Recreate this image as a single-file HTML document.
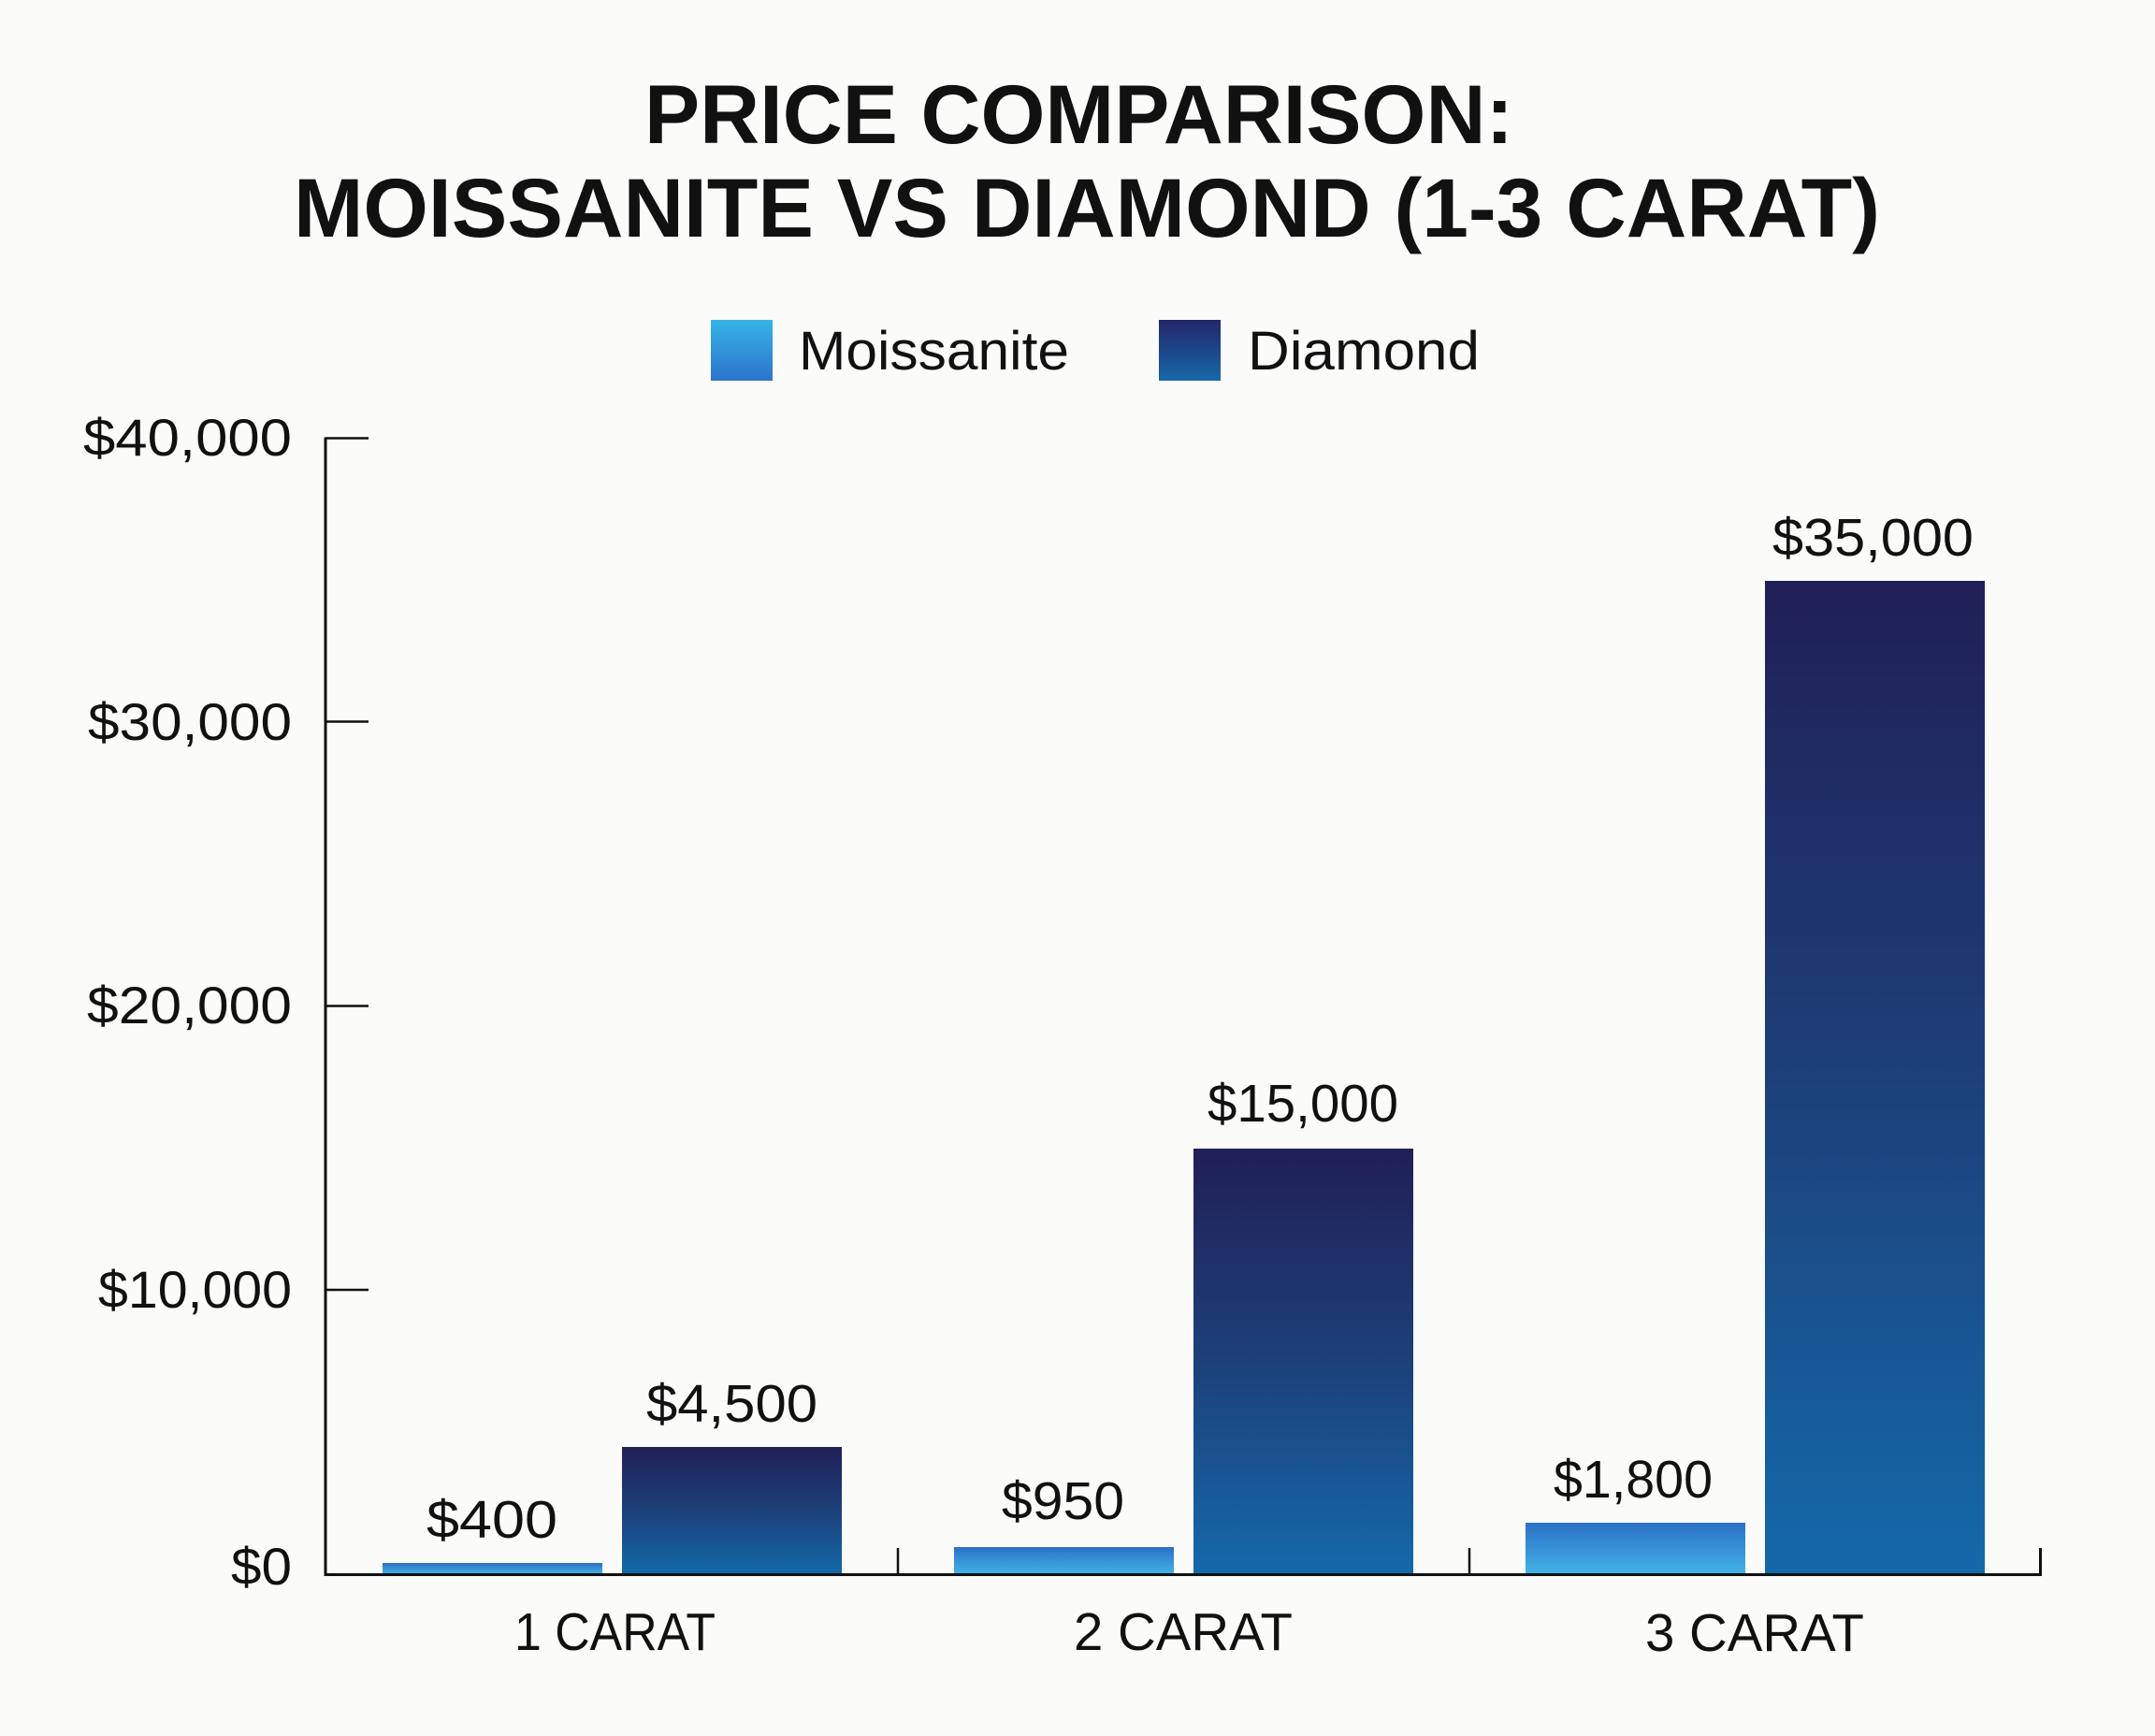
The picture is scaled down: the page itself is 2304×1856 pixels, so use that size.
<!DOCTYPE html>
<html>
<head>
<meta charset="utf-8">
<style>
  html, body { margin: 0; padding: 0; background: #fbfbf9; }
  svg { display: block; }
  text { font-family: "Liberation Sans", "DejaVu Sans", sans-serif; fill: #111; }
</style>
</head>
<body>
<svg width="2304" height="1856" viewBox="0 0 2304 1856" xmlns="http://www.w3.org/2000/svg">
  <defs>
    <linearGradient id="gM" x1="0" y1="0" x2="0" y2="1">
      <stop offset="0" stop-color="#2b70c6"/>
      <stop offset="1" stop-color="#43b3e6"/>
    </linearGradient>
    <linearGradient id="gD" x1="0" y1="0" x2="0" y2="1">
      <stop offset="0" stop-color="#211f57"/>
      <stop offset="0.5" stop-color="#1d4079"/>
      <stop offset="1" stop-color="#1469aa"/>
    </linearGradient>
    <linearGradient id="gLM" x1="0" y1="0" x2="0" y2="1">
      <stop offset="0" stop-color="#36b4e6"/>
      <stop offset="1" stop-color="#2c74cb"/>
    </linearGradient>
    <linearGradient id="gLD" x1="0" y1="0" x2="0" y2="1">
      <stop offset="0" stop-color="#24266a"/>
      <stop offset="1" stop-color="#1768a8"/>
    </linearGradient>
  </defs>

  <rect x="0" y="0" width="2304" height="1856" fill="#fbfbf9"/>

  <!-- Title -->
  <text x="689" y="153" font-size="89" font-weight="bold" textLength="929" lengthAdjust="spacingAndGlyphs">PRICE COMPARISON:</text>
  <text x="314" y="253" font-size="89" font-weight="bold" textLength="1696" lengthAdjust="spacingAndGlyphs">MOISSANITE VS DIAMOND (1-3 CARAT)</text>

  <!-- Legend -->
  <rect x="760" y="342" width="66" height="65" fill="url(#gLM)"/>
  <text x="854" y="395" font-size="58" textLength="289" lengthAdjust="spacingAndGlyphs">Moissanite</text>
  <rect x="1239" y="342" width="66" height="65" fill="url(#gLD)"/>
  <text x="1334" y="395" font-size="58" textLength="248" lengthAdjust="spacingAndGlyphs">Diamond</text>

  <!-- Y tick labels -->
  <text x="312" y="487" font-size="56" text-anchor="end" textLength="223" lengthAdjust="spacingAndGlyphs">$40,000</text>
  <text x="312" y="791" font-size="56" text-anchor="end" textLength="218" lengthAdjust="spacingAndGlyphs">$30,000</text>
  <text x="312" y="1094" font-size="56" text-anchor="end" textLength="219" lengthAdjust="spacingAndGlyphs">$20,000</text>
  <text x="312" y="1398" font-size="56" text-anchor="end" textLength="207" lengthAdjust="spacingAndGlyphs">$10,000</text>
  <text x="312" y="1694" font-size="56" text-anchor="end" textLength="65" lengthAdjust="spacingAndGlyphs">$0</text>

  <!-- Bars -->
  <rect x="409" y="1671" width="235" height="12" fill="url(#gM)"/>
  <rect x="665" y="1547" width="235" height="136" fill="url(#gD)"/>
  <rect x="1020" y="1654" width="235" height="29" fill="url(#gM)"/>
  <rect x="1276" y="1228" width="235" height="455" fill="url(#gD)"/>
  <rect x="1631" y="1628" width="235" height="55" fill="url(#gM)"/>
  <rect x="1887" y="621" width="235" height="1062" fill="url(#gD)"/>

  <!-- Axes -->
  <line x1="348" y1="467.5" x2="348" y2="1684.5" stroke="#111" stroke-width="3"/>
  <line x1="348" y1="468.5" x2="394" y2="468.5" stroke="#111" stroke-width="2.5"/>
  <line x1="348" y1="771.5" x2="394" y2="771.5" stroke="#111" stroke-width="2.5"/>
  <line x1="348" y1="1075.5" x2="394" y2="1075.5" stroke="#111" stroke-width="2.5"/>
  <line x1="348" y1="1379" x2="394" y2="1379" stroke="#111" stroke-width="2.5"/>
  <line x1="346.5" y1="1683.5" x2="2183" y2="1683.5" stroke="#111" stroke-width="3"/>
  <line x1="960" y1="1655" x2="960" y2="1684" stroke="#111" stroke-width="2.5"/>
  <line x1="1571" y1="1655" x2="1571" y2="1684" stroke="#111" stroke-width="2.5"/>
  <line x1="2181.5" y1="1655" x2="2181.5" y2="1685" stroke="#111" stroke-width="3"/>

  <!-- Value labels -->
  <text x="456" y="1644" font-size="57" textLength="140" lengthAdjust="spacingAndGlyphs">$400</text>
  <text x="691" y="1520" font-size="57" textLength="183" lengthAdjust="spacingAndGlyphs">$4,500</text>
  <text x="1071" y="1624" font-size="57" textLength="131" lengthAdjust="spacingAndGlyphs">$950</text>
  <text x="1291" y="1199" font-size="57" textLength="204" lengthAdjust="spacingAndGlyphs">$15,000</text>
  <text x="1661" y="1601" font-size="57" textLength="170" lengthAdjust="spacingAndGlyphs">$1,800</text>
  <text x="1895" y="594" font-size="57" textLength="215" lengthAdjust="spacingAndGlyphs">$35,000</text>

  <!-- Category labels -->
  <text x="550" y="1764" font-size="57" textLength="215" lengthAdjust="spacingAndGlyphs">1 CARAT</text>
  <text x="1148" y="1764" font-size="57" textLength="234" lengthAdjust="spacingAndGlyphs">2 CARAT</text>
  <text x="1759" y="1765" font-size="57" textLength="234" lengthAdjust="spacingAndGlyphs">3 CARAT</text>
</svg>
</body>
</html>
